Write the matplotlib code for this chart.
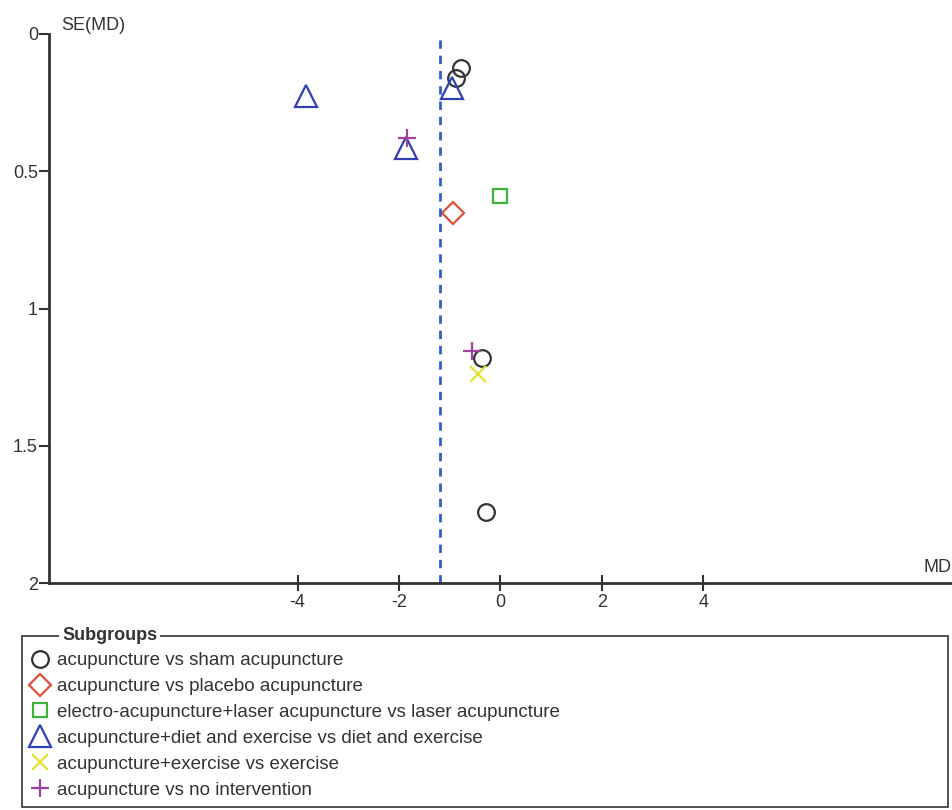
import matplotlib.pyplot as plt
from matplotlib.patches import Rectangle

plt.rcParams['font.family'] = ['Liberation Sans', 'DejaVu Sans']
plt.rcParams['axes.unicode_minus'] = False

# funnel plot data (MD, SE(MD)) per subgroup
subgroups = ['acupuncture vs sham acupuncture',
             'acupuncture vs placebo acupuncture',
             'electro-acupuncture+laser acupuncture vs laser acupuncture',
             'acupuncture+diet and exercise vs diet and exercise',
             'acupuncture+exercise vs exercise',
             'acupuncture vs no intervention']
md_vals = [[-0.77, -0.87, -0.37, -0.28],
           [-0.94],
           [0.0],
           [-3.84, -0.96, -1.87],
           [-0.45],
           [-1.85, -0.57]]
se_vals = [[0.124, 0.16, 1.18, 1.74],
           [0.652],
           [0.59],
           [0.226, 0.197, 0.415],
           [1.24],
           [0.38, 1.155]]
pooled_md = -1.2

markers = ['o', 'D', 's', '^', 'x', '+']
colors = ['#333333', '#e0503c', '#3cb43c', '#3040b4', '#e4e430', '#a040a0']
sizes = [12, 11, 10, 16, 12, 13]

fig = plt.figure(figsize=(9.53, 8.10), dpi=100)
ax = fig.add_axes([49/953, 227/810, (952-49)/953, (583-34)/810])

for i in range(len(subgroups)):
    if markers[i] in ('x', '+'):
        ax.plot(md_vals[i], se_vals[i], linestyle='none', marker=markers[i],
                ms=sizes[i], mew=1.6, color=colors[i], label=subgroups[i])
    else:
        ax.plot(md_vals[i], se_vals[i], linestyle='none', marker=markers[i],
                ms=sizes[i], mew=1.6, mfc='none', mec=colors[i], label=subgroups[i])

ax.axvline(pooled_md, color='#2f5fc8', linestyle=(0, (3, 2.5)), lw=2)

ax.set_xlim(-8.9, 8.9)
ax.set_ylim(2, 0)
ax.set_xticks([-4, -2, 0, 2, 4])
ax.set_yticks([0, 0.5, 1, 1.5, 2])
ax.set_yticklabels(['0', '0.5', '1', '1.5', '2'])
for s in ['top', 'right']:
    ax.spines[s].set_visible(False)
for s in ['left', 'bottom']:
    ax.spines[s].set_color('#333333')
    ax.spines[s].set_linewidth(2)
ax.tick_params(axis='x', direction='inout', length=12, width=1.5, colors='#333333',
               labelsize=13, pad=2)
ax.tick_params(axis='y', direction='out', length=7, width=1.5, colors='#333333',
               labelsize=13, pad=1)
ax.text(0.013, 1.0, 'SE(MD)', transform=ax.transAxes, fontsize=13, color='#333333',
        va='bottom', ha='left')
ax.text(1.0, 0.012, 'MD', transform=ax.transAxes, fontsize=13, color='#333333',
        va='bottom', ha='right')

# legend box
fig.patches.append(Rectangle((22/953, 3/810), (948-22)/953, (174-3)/810,
                             transform=fig.transFigure, fill=False,
                             edgecolor='#333333', lw=1.2))
fig.text(62/953, 174/810, 'Subgroups', fontsize=13, fontweight='bold', color='#333333',
         va='center', ha='left', bbox=dict(facecolor='white', edgecolor='none', pad=2))
handles, labels = ax.get_legend_handles_labels()
leg = fig.legend(handles, labels, loc='upper left', bbox_to_anchor=(32/953, 158/810),
                 frameon=False, fontsize=13.5, labelspacing=0.47, handlelength=0.9,
                 handletextpad=0.45, borderaxespad=0, borderpad=0, numpoints=1)
for t in leg.get_texts():
    t.set_color('#333333')

fig.savefig('out.png', dpi=100)
